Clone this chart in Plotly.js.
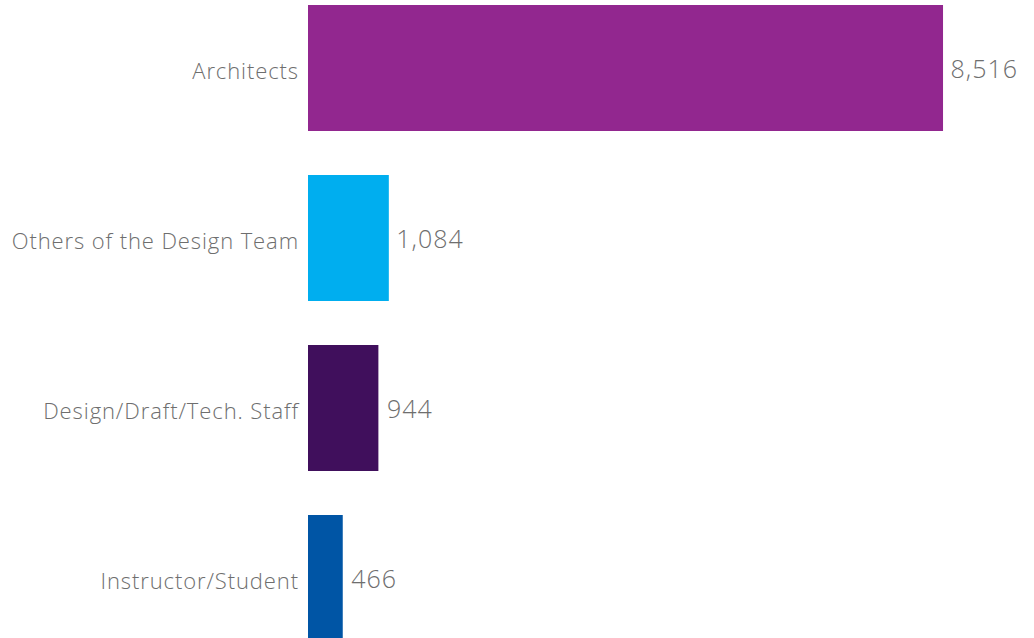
<!DOCTYPE html>
<html>
<head>
<meta charset="utf-8">
<script src="https://cdn.plot.ly/plotly-3.0.1.min.js"></script>
<style>
html,body{margin:0;padding:0;background:#fff;}
#chart{width:1034px;height:638px;}
#chart .ytick text{letter-spacing:0.9px;}
#chart .bartext text, #chart text.bartext{letter-spacing:1px;}
</style>
</head>
<body>
<div id="chart"></div>
<script>
const categories = ["Architects", "Others of the Design Team", "Design/Draft/Tech. Staff", "Instructor/Student"];
const counts = [8516, 1084, 944, 466];
const barColors = ["#92278F", "#00AEEF", "#400F5C", "#0055A5"];

const trace = {
  type: "bar",
  orientation: "h",
  y: categories,
  x: counts,
  marker: { color: barColors },
  width: 0.74,
  text: counts.map(v => "\u00a0" + v.toLocaleString("en-US")),
  textposition: "outside",
  cliponaxis: false,
  textfont: { family: "Open Sans", size: 25, weight: 300, color: "#6e6e6e" },
  hoverinfo: "none"
};

const layout = {
  width: 1034,
  height: 638,
  margin: { l: 308, r: 0, t: 0, b: 0 },
  paper_bgcolor: "#fff",
  plot_bgcolor: "#fff",
  showlegend: false,
  font: { family: "Open Sans", size: 22, color: "#6e6e6e" },
  xaxis: { range: [0, 9736], showgrid: false, zeroline: false, showticklabels: false, showline: false, fixedrange: true },
  yaxis: { type: "category", range: [3.353, -0.4], showgrid: false, zeroline: false, showline: false, ticks: "", ticklabelstandoff: 8, ticklabelshift: -3, tickfont: { family: "Open Sans", size: 22, weight: 300, color: "#6e6e6e" }, fixedrange: true }
};

Plotly.newPlot("chart", [trace], layout, { displayModeBar: false, staticPlot: true });
</script>
</body>
</html>
